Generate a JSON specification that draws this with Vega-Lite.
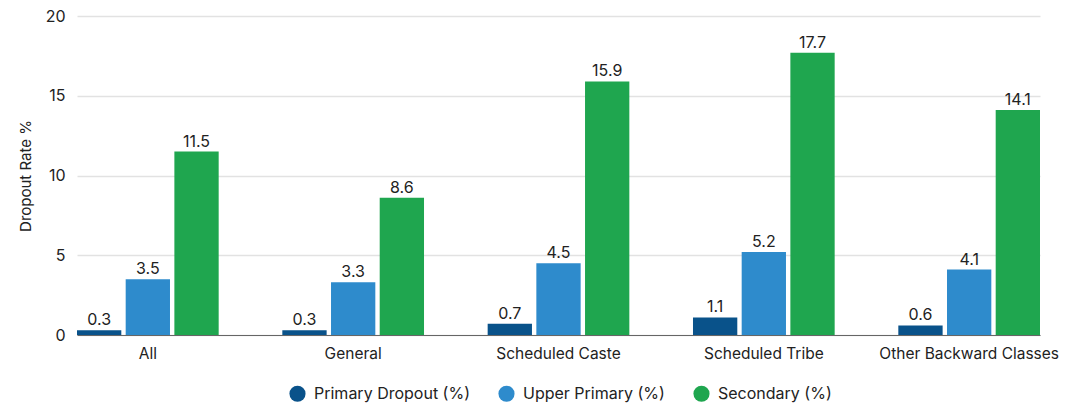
{
  "$schema": "https://vega.github.io/schema/vega-lite/v6.json",
  "width": 963,
  "height": 319,
  "autosize": {"type": "none"},
  "padding": {"left": 77, "top": 16, "right": 25, "bottom": 71},
  "config": {
    "font": "Inter",
    "view": {"stroke": null},
    "axis": {"labelFont": "Inter", "titleFont": "Inter", "labelColor": "#222", "titleColor": "#222"},
    "legend": {"labelFont": "Inter"}
  },
  "data": {
    "values": [
      {"group": "All", "level": "Primary Dropout (%)", "rate": 0.3},
      {"group": "All", "level": "Upper Primary (%)", "rate": 3.5},
      {"group": "All", "level": "Secondary (%)", "rate": 11.5},
      {"group": "General", "level": "Primary Dropout (%)", "rate": 0.3},
      {"group": "General", "level": "Upper Primary (%)", "rate": 3.3},
      {"group": "General", "level": "Secondary (%)", "rate": 8.6},
      {"group": "Scheduled Caste", "level": "Primary Dropout (%)", "rate": 0.7},
      {"group": "Scheduled Caste", "level": "Upper Primary (%)", "rate": 4.5},
      {"group": "Scheduled Caste", "level": "Secondary (%)", "rate": 15.9},
      {"group": "Scheduled Tribe", "level": "Primary Dropout (%)", "rate": 1.1},
      {"group": "Scheduled Tribe", "level": "Upper Primary (%)", "rate": 5.2},
      {"group": "Scheduled Tribe", "level": "Secondary (%)", "rate": 17.7},
      {"group": "Other Backward Classes", "level": "Primary Dropout (%)", "rate": 0.6},
      {"group": "Other Backward Classes", "level": "Upper Primary (%)", "rate": 4.1},
      {"group": "Other Backward Classes", "level": "Secondary (%)", "rate": 14.1}
    ]
  },
  "encoding": {
    "x": {
      "field": "group",
      "type": "nominal",
      "sort": null,
      "scale": {"paddingInner": 0.31, "paddingOuter": 0},
      "axis": {
        "title": null,
        "labelAngle": 0,
        "labelFontSize": 15.5,
        "labelLimit": 0,
        "labelPadding": 11,
        "ticks": false,
        "domainColor": "#666",
        "domainWidth": 1
      }
    },
    "xOffset": {
      "field": "level",
      "type": "nominal",
      "sort": ["Primary Dropout (%)", "Upper Primary (%)", "Secondary (%)"],
      "scale": {"paddingInner": 0.09, "paddingOuter": 0}
    },
    "y": {
      "field": "rate",
      "type": "quantitative",
      "scale": {"domain": [0, 20]},
      "axis": {
        "title": "Dropout Rate %",
        "titleFontSize": 15,
        "titleFontWeight": "normal",
        "titlePadding": 12,
        "labelFontSize": 16,
        "labelPadding": 12,
        "labelOverlap": false,
        "values": [0, 5, 10, 15, 20],
        "ticks": false,
        "domain": false,
        "gridColor": "#e2e2e2",
        "gridWidth": 1.5
      }
    }
  },
  "layer": [
    {
      "mark": {"type": "bar"},
      "encoding": {
        "color": {
          "field": "level",
          "type": "nominal",
          "sort": ["Primary Dropout (%)", "Upper Primary (%)", "Secondary (%)"],
          "scale": {
            "domain": ["Primary Dropout (%)", "Upper Primary (%)", "Secondary (%)"],
            "range": ["#09528a", "#2e8bcc", "#1fa64f"]
          },
          "legend": {
            "title": null,
            "orient": "none",
            "legendX": 212,
            "legendY": 369,
            "direction": "horizontal",
            "symbolType": "circle",
            "symbolSize": 260,
            "symbolStrokeWidth": 0,
            "labelFontSize": 16,
            "labelColor": "#222",
            "labelOffset": 8,
            "columnPadding": 28
          }
        }
      }
    },
    {
      "mark": {"type": "text", "dy": -10, "fontSize": 16, "color": "#222"},
      "encoding": {
        "text": {"field": "rate", "type": "quantitative", "format": ".1f"}
      }
    }
  ]
}
